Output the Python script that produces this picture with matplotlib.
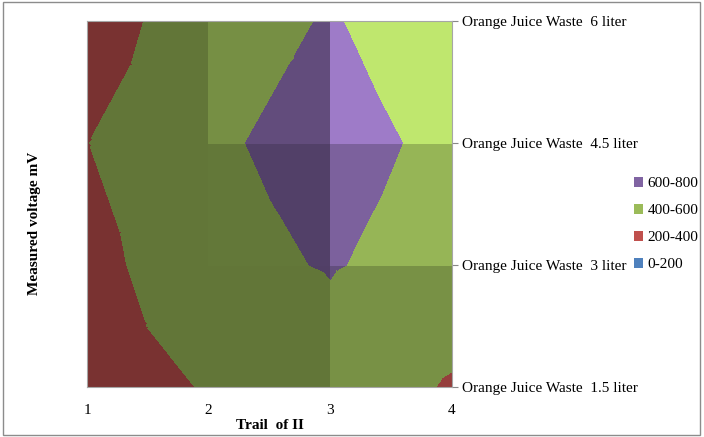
import numpy as np
import matplotlib
matplotlib.use("Agg")
import matplotlib.pyplot as plt
import matplotlib.tri as mtri
from matplotlib.colors import to_rgb
from matplotlib.patches import Patch, Rectangle

# data (mV), rows = waste volume, columns = trail
trails = [1, 2, 3, 4]
volumes = ["Orange Juice Waste  1.5 liter", "Orange Juice Waste  3 liter",
           "Orange Juice Waste  4.5 liter", "Orange Juice Waste  6 liter"]
v_15 = [311, 411, 538, 378]
v_3 = [321, 561, 608, 546]
v_45 = [396, 581, 643, 570]
v_6 = [271, 546, 608, 528]
bands = ["0-200", "200-400", "400-600", "600-800"]
levels = [0, 200, 400, 600, 800]
band_colors = ["#4F81BD", "#C0504D", "#9BBB59", "#8064A2"]

Z = np.array([v_15, v_3, v_45, v_6], dtype=float)
xs = np.array(trails, dtype=float)
ys = np.arange(len(volumes), dtype=float)

# light used for the 3-D surface shading
light = np.array([1.0, 1.0, 0.45])
light = light / np.linalg.norm(light)
zscale = 200.0


def shade(col, f):
    c = np.array(to_rgb(col)) * f
    return tuple(np.clip(c, 0, 1))


def facet_factor(gx, gy):
    n = np.array([-gx / zscale, -gy / zscale, 1.0])
    n = n / np.linalg.norm(n)
    return 0.63 + 1.09 * max(0.0, np.dot(n, light)) ** 1.3


fig = plt.figure(figsize=(7.04, 4.37), dpi=100)
ax = fig.add_axes([87 / 704, 50 / 437, 365 / 704, 366 / 437])

for i in range(len(ys) - 1):
    for j in range(len(xs) - 1):
        # corners: bottom-left, bottom-right, top-right, top-left
        cx = [xs[j], xs[j + 1], xs[j + 1], xs[j]]
        cy = [ys[i], ys[i], ys[i + 1], ys[i + 1]]
        cz = [Z[i, j], Z[i, j + 1], Z[i + 1, j + 1], Z[i + 1, j]]
        mx, my, mz = np.mean(cx), np.mean(cy), np.mean(cz)
        gx = ((cz[1] - cz[0]) + (cz[2] - cz[3])) / 2
        gy = ((cz[3] - cz[0]) + (cz[2] - cz[1])) / 2
        f = facet_factor(gx, gy)
        cols = [shade(c, f) for c in band_colors]
        # four triangles around the cell centre
        for k in range(4):
            tx = [cx[k], cx[(k + 1) % 4], mx]
            ty = [cy[k], cy[(k + 1) % 4], my]
            tz = [cz[k], cz[(k + 1) % 4], mz]
            tri = mtri.Triangulation(tx, ty, triangles=[[0, 1, 2]])
            cs = ax.tricontourf(tri, tz, levels=levels, colors=cols)
            cs.set_edgecolor("face")
            cs.set_linewidth(0.4)

ax.set_xlim(1, 4)
ax.set_ylim(0, 3)
ax.set_xticks(xs)
ax.set_xticklabels([str(t) for t in trails])
ax.set_yticks(ys)
ax.set_yticklabels(volumes)
ax.yaxis.tick_right()
ax.tick_params(axis="x", length=0, pad=12)
ax.tick_params(axis="y", length=4, pad=3, color="#888888")
for lab in ax.get_xticklabels() + ax.get_yticklabels():
    lab.set_family("Liberation Serif")
    lab.set_fontsize(11)
for sp in ax.spines.values():
    sp.set_color("#a6a6a6")
    sp.set_linewidth(0.8)

ax.set_xlabel("Trail  of II", family="Liberation Serif", fontsize=11,
              fontweight="bold", labelpad=2)
fig.text(35 / 704, 1 - 223 / 437, "Measured voltage mV", rotation=90,
         family="Liberation Serif", fontsize=11, fontweight="bold",
         ha="center", va="center")

handles = [Patch(facecolor=band_colors[k], edgecolor="none", label=bands[k])
           for k in range(len(bands) - 1, -1, -1)]
fig.legend(handles=handles, loc="center left",
           bbox_to_anchor=(626 / 704, 1 - 224 / 437), frameon=False,
           prop={"family": "Liberation Serif", "size": 11},
           handlelength=0.6, handleheight=0.6, handletextpad=0.3,
           labelspacing=0.9, borderpad=0)

fig.patches.append(Rectangle((3 / 704, 2 / 437), 697 / 704, 433 / 437,
                             transform=fig.transFigure, fill=False,
                             edgecolor="#8c8c8c", linewidth=1))

fig.savefig("out.png", dpi=100)
